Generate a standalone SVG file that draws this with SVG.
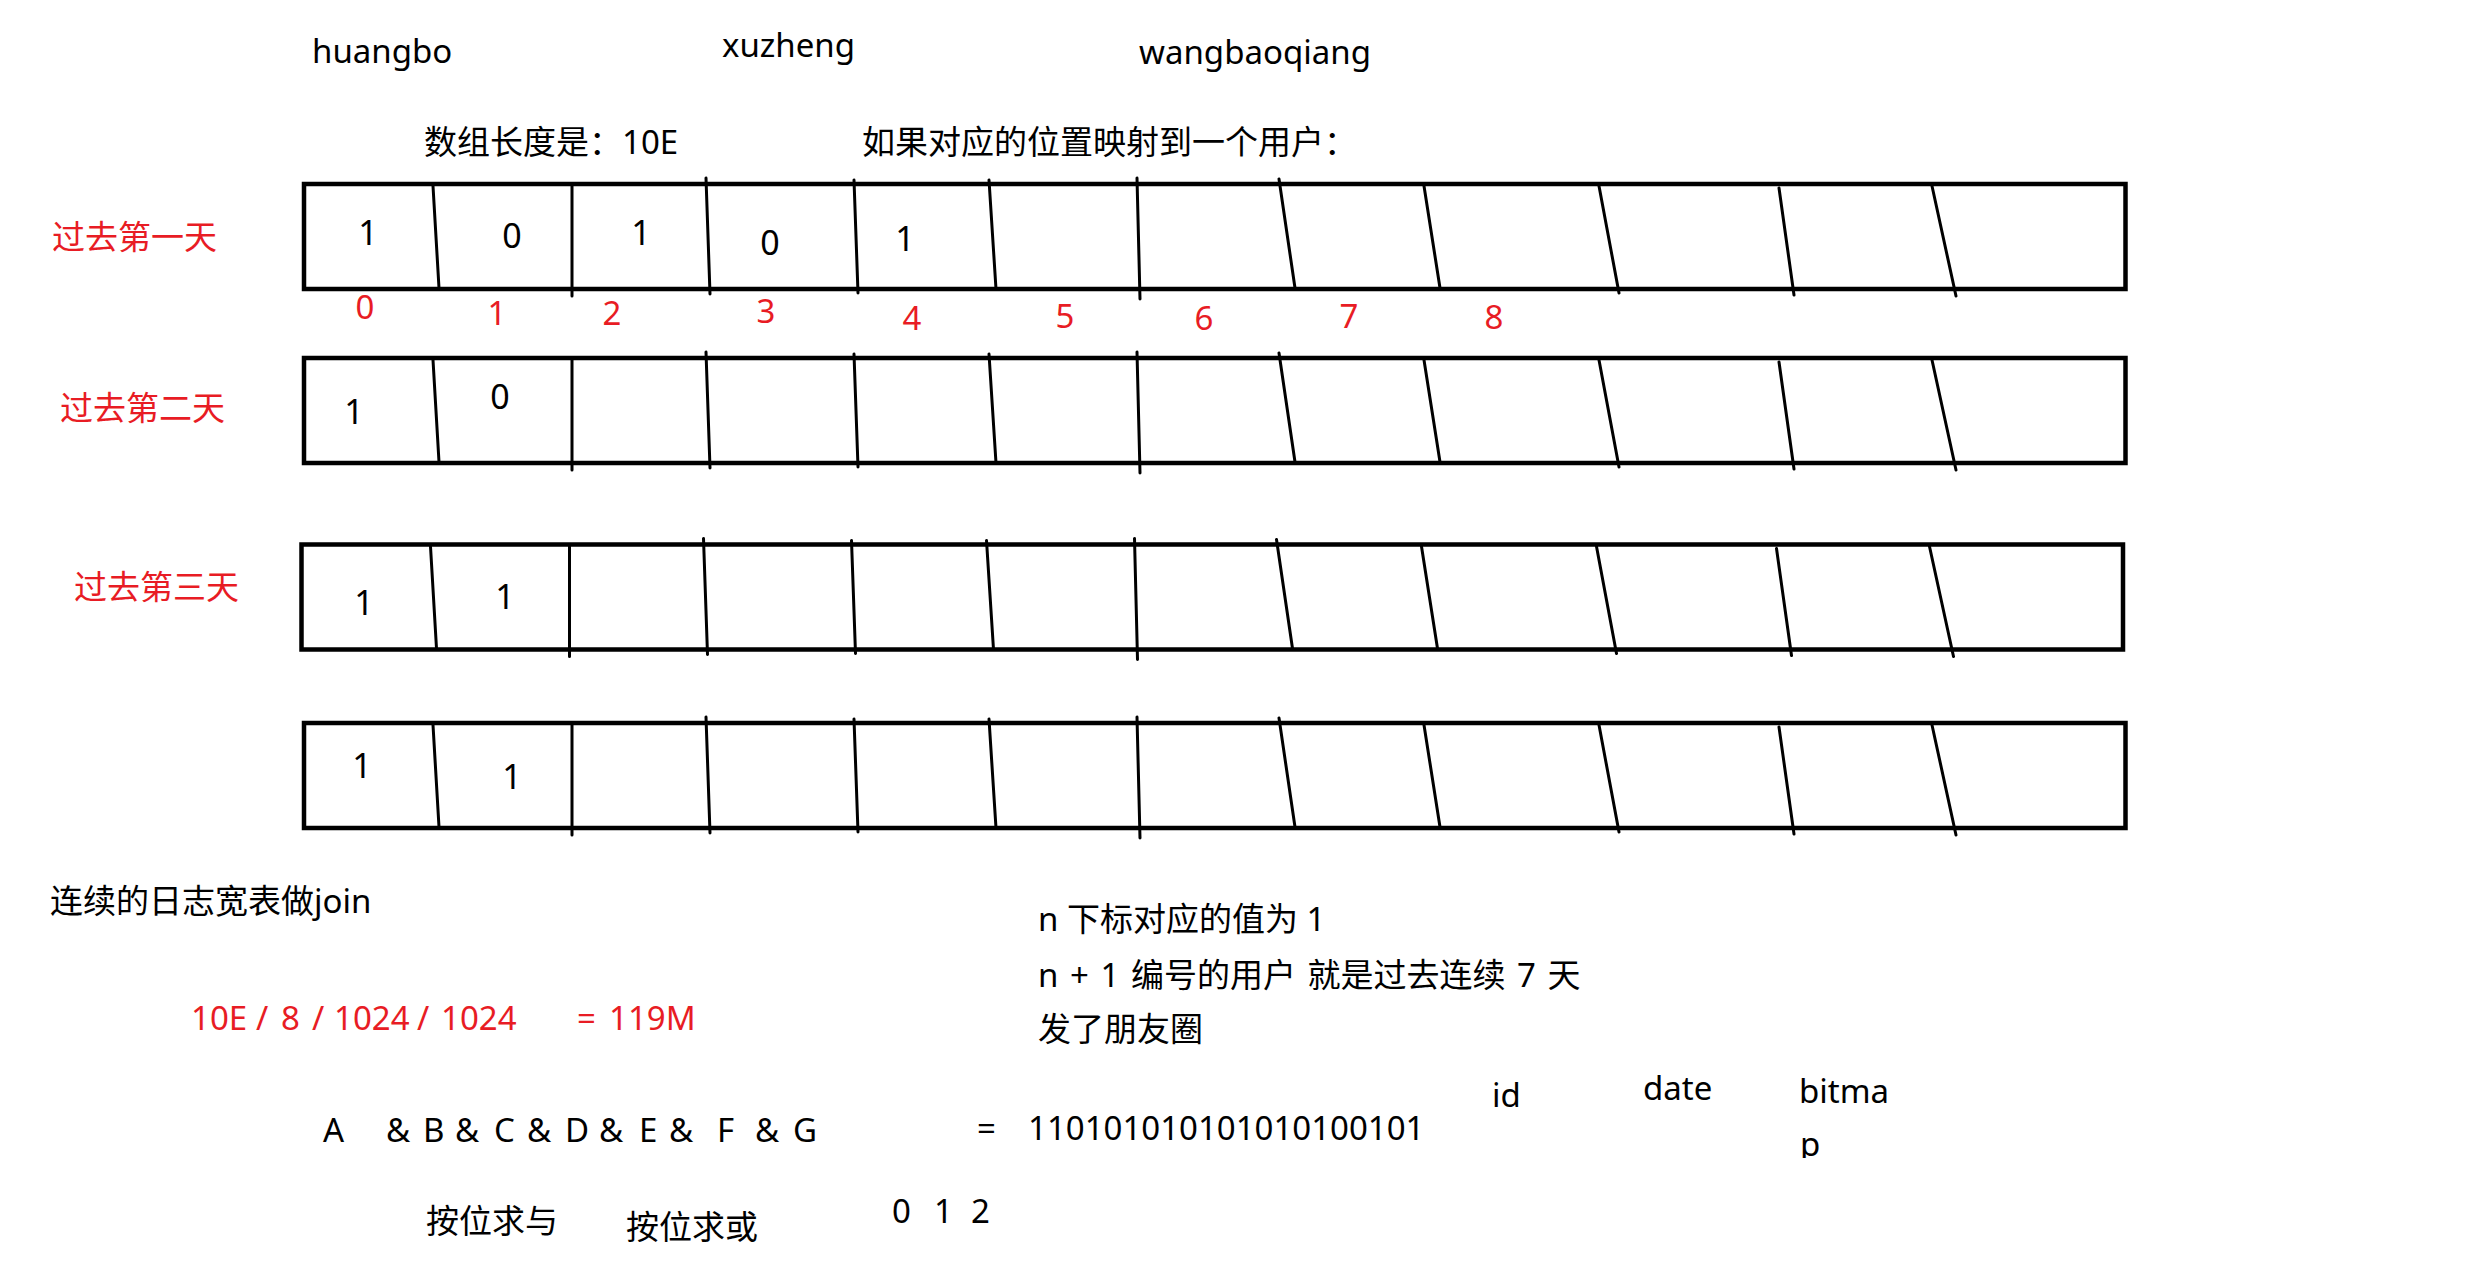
<svg xmlns="http://www.w3.org/2000/svg" xmlns:xlink="http://www.w3.org/1999/xlink" width="2474" height="1278" viewBox="0 0 2474 1278">
<style>
text{font-family:"Noto Sans","Noto Sans CJK SC",sans-serif;font-size:33px;fill:#000}
.red{fill:#e81c24}
.cell{font-size:34px;text-anchor:middle}
.idx{text-anchor:middle;fill:#e81c24}
.frame{fill:none;stroke:#000;stroke-width:4.5}
.div{stroke:#000;stroke-width:3;stroke-linecap:round;fill:none}
</style>
<defs>
<g id="rowShape">
<rect class="frame" x="304" y="184" width="1821.5" height="105"/>
<path class="div" d="M433,186L439,288M572,186L572,296M706,178L710,294M854,180L858,293M989,180L996,289M1137,178L1140,299M1279,179L1295,288M1424,186L1440,288M1599,186L1619,293M1779,188L1794,295M1932,186L1956,296"/>
</g>
<clipPath id="clipP"><rect x="1780" y="1110" width="60" height="48"/></clipPath>
</defs>
<g id="labels-top">
<text x="312" y="63">huangbo</text>
<text x="722" y="57">xuzheng</text>
<text x="1139" y="64">wangbaoqiang</text>
<text x="424" y="154">数组长度是：10E</text>
<text x="862" y="154">如果对应的位置映射到一个用户：</text>
</g>
<g id="day1">
<text class="red" x="52" y="249">过去第一天</text>
<use xlink:href="#rowShape"/>
<text class="cell" x="368" y="245">1</text>
<text class="cell" x="512" y="248">0</text>
<text class="cell" x="641" y="245">1</text>
<text class="cell" x="770" y="255">0</text>
<text class="cell" x="905" y="251">1</text>
</g>
<g id="index">
<text class="idx" x="365" y="319">0</text>
<text class="idx" x="497" y="325">1</text>
<text class="idx" x="612" y="325">2</text>
<text class="idx" x="766" y="323">3</text>
<text class="idx" x="912" y="330">4</text>
<text class="idx" x="1065" y="328">5</text>
<text class="idx" x="1204" y="330">6</text>
<text class="idx" x="1349" y="328">7</text>
<text class="idx" x="1494" y="329">8</text>
</g>
<g id="day2">
<text class="red" x="60" y="420">过去第二天</text>
<use xlink:href="#rowShape" transform="translate(0,174)"/>
<text class="cell" x="354" y="424">1</text>
<text class="cell" x="500" y="409">0</text>
</g>
<g id="day3">
<text class="red" x="74" y="599">过去第三天</text>
<use xlink:href="#rowShape" transform="translate(-2.5,360.5)"/>
<text class="cell" x="364" y="615">1</text>
<text class="cell" x="505" y="609">1</text>
</g>
<g id="day4">
<use xlink:href="#rowShape" transform="translate(0,539)"/>
<text class="cell" x="362" y="778">1</text>
<text class="cell" x="512" y="789">1</text>
</g>
<g id="notes">
<text x="50" y="913">连续的日志宽表做join</text>
<text class="red"><tspan x="191" y="1030">10E</tspan><tspan x="256">/</tspan><tspan x="281">8</tspan><tspan x="312">/</tspan><tspan x="334">1024</tspan><tspan x="417">/</tspan><tspan x="441">1024</tspan><tspan x="577">=</tspan><tspan x="609">119M</tspan></text>
<text x="1038" y="931">n 下标对应的值为 1</text>
<text x="1038" y="987" word-spacing="3">n + 1 编号的用户 就是过去连续 7 天</text>
<text x="1038" y="1041">发了朋友圈</text>
<text><tspan x="323" y="1142">A</tspan><tspan x="386">&amp;</tspan><tspan x="423">B</tspan><tspan x="455">&amp;</tspan><tspan x="494">C</tspan><tspan x="527">&amp;</tspan><tspan x="565">D</tspan><tspan x="599">&amp;</tspan><tspan x="639">E</tspan><tspan x="669">&amp;</tspan><tspan x="717">F</tspan><tspan x="755">&amp;</tspan><tspan x="793">G</tspan></text>
<text x="977" y="1140">=</text>
<text x="1028" y="1140">110101010101010100101</text>
<text x="1492" y="1107">id</text>
<text x="1643" y="1100">date</text>
<text x="1799" y="1103">bitma</text>
<text x="1800" y="1156" clip-path="url(#clipP)">p</text>
<text x="426" y="1233">按位求与</text>
<text x="626" y="1239">按位求或</text>
<text><tspan x="892" y="1223">0</tspan><tspan x="934">1</tspan><tspan x="971">2</tspan></text>
</g>
<g id="connectors"/>
</svg>
